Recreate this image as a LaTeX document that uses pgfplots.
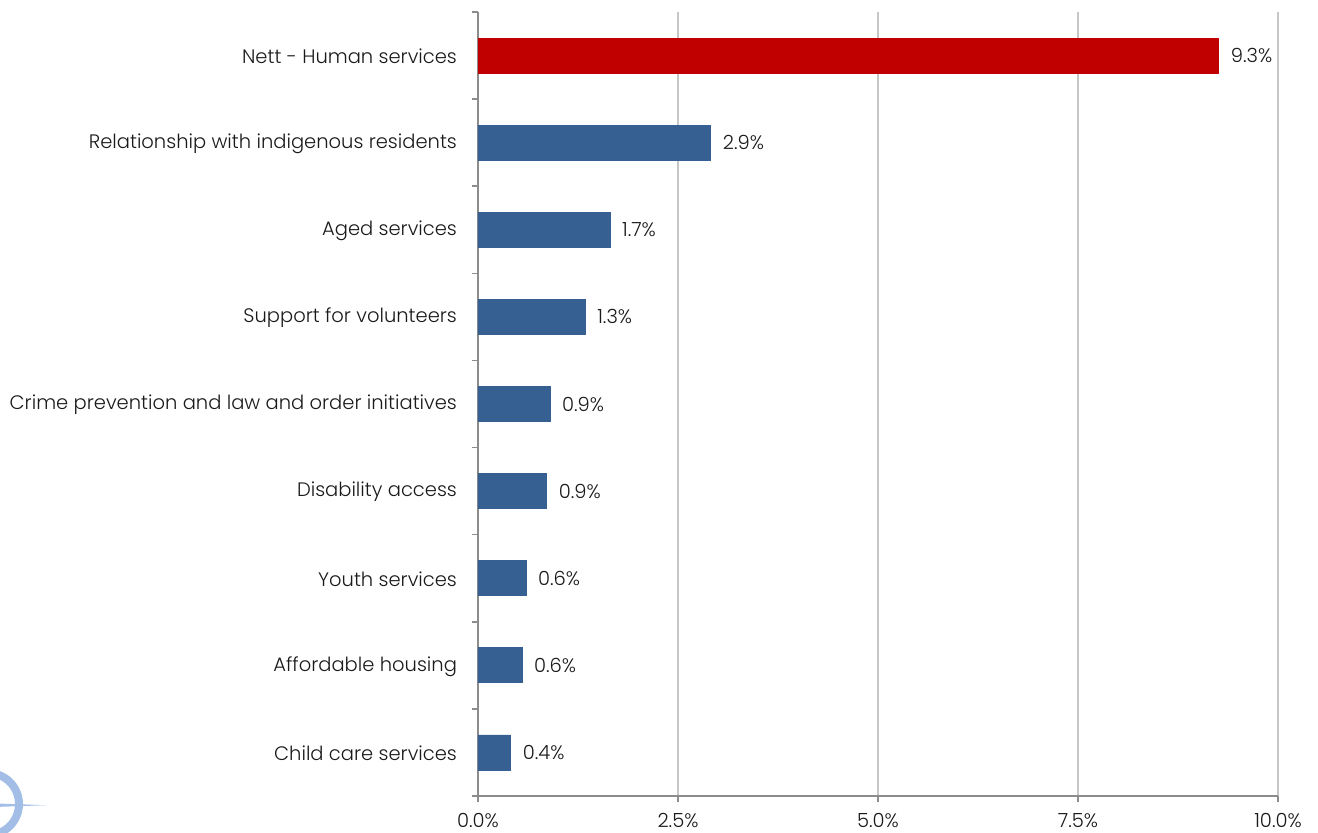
\documentclass[border=0pt]{standalone}
\usepackage{pgfplots}
\pgfplotsset{compat=1.18}
\usepackage{fontspec}
\setmainfont{Poppins}[UprightFont=* Light]
\definecolor{barblue}{HTML}{376092}
\definecolor{barred}{HTML}{C00000}
\definecolor{gridgray}{HTML}{C6C6C6}
\definecolor{axisgray}{HTML}{8C8C8C}
\definecolor{txt}{HTML}{1A1A1A}
\definecolor{logoblue}{HTML}{A3BEE6}
\begin{document}
\begin{tikzpicture}[x=1pt,y=1pt]
\useasboundingbox (0,0) rectangle (659,416);
\begin{axis}[
  at={(239pt,18pt)}, anchor=south west,
  scale only axis, width=400pt, height=392pt,
  xmin=0, xmax=10, ymin=-0.5, ymax=8.5,
  xbar, bar width=17.5pt,
  xtick={0,2.5,5,7.5,10},
  xticklabels={0.0\%,2.5\%,5.0\%,7.5\%,10.0\%},
  minor xtick={0,2.5,5,7.5,10},
  ytick={0,...,8},
  yticklabels={Child care services, Affordable housing, Youth services, Disability access, Crime prevention and law and order initiatives, Support for volunteers, Aged services, Relationship with indigenous residents, Nett - Human services},
  minor ytick={-0.5,0.5,...,8.5},
  axis lines*=left,
  axis line style={axisgray, line width=0.8pt},
  xmajorgrids, major grid style={gridgray, line width=0.6pt},
  tick style={axisgray, line width=0.8pt},
  major tick length=0pt, minor tick length=3pt, tick align=outside,
  tick label style={font=\fontsize{9.75}{11}\selectfont, color=txt},
  yticklabel style={xshift=-7pt, yshift=-0.5pt},
  xticklabel style={yshift=-5pt},
  point meta=explicit,
  /pgf/number format/assume math mode=true,
  nodes near coords={\pgfmathprintnumber[fixed,fixed zerofill,precision=1,assume math mode=true]{\pgfplotspointmeta}\%},
  every node near coord/.append style={font=\fontsize{9.75}{11}\selectfont, color=txt, anchor=west, xshift=2.5pt},
  clip=false,
]
\addplot[fill=barblue, draw=barblue, bar shift=0pt] coordinates {
  (0.41,0) [0.4]
  (0.55,1) [0.6]
  (0.60,2) [0.6]
  (0.86,3) [0.9]
  (0.90,4) [0.9]
  (1.34,5) [1.3]
  (1.65,6) [1.7]
  (2.91,7) [2.9]
};
\addplot[fill=barred, draw=barred, bar shift=0pt] coordinates {
  (9.26,8) [9.3]
};
\end{axis}
\draw[logoblue, line width=4pt] (-6pt,14pt) circle (15.5pt);
\fill[logoblue] (0pt,12.6pt) -- (23pt,13.4pt) -- (0pt,14.2pt) -- cycle;
\end{tikzpicture}
\end{document}
